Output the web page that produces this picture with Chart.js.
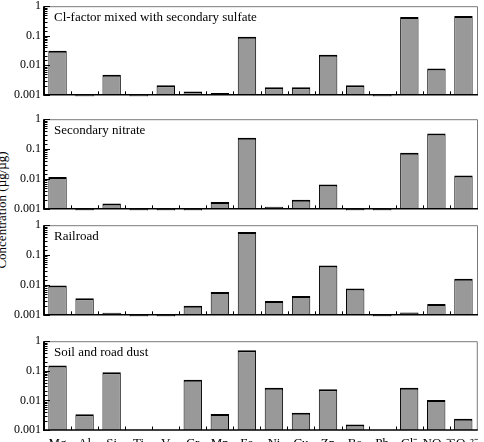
<!DOCTYPE html>
<html><head><meta charset="utf-8">
<script src="https://cdn.jsdelivr.net/npm/chart.js@4"></script>
<style>
html,body{margin:0;padding:0;width:484px;height:442px;overflow:hidden;background:#fff;}
canvas{position:absolute;left:0;}
#ytitle{position:absolute;left:1px;top:210px;transform:translate(-50%,-50%) rotate(-90deg);white-space:nowrap;font:13px 'Liberation Serif';line-height:15px;color:#000;}
</style></head><body>
<div id="ytitle">Concentration (µg/µg)</div>
<canvas id="c0"></canvas><canvas id="c1"></canvas><canvas id="c2"></canvas><canvas id="c3"></canvas>
<script>
const categories = ['Mg','Al','Si','Ti','V','Cr','Mn','Fe','Ni','Cu','Zn','Ba','Pb','Cl⁻','NO₃⁻','SO₄²⁻'];
const clFactorSulfate = [0.031, 0.00088, 0.0048, 0.00088, 0.0021, 0.0013, 0.00114, 0.093, 0.0018, 0.0018, 0.0225, 0.0021, 0.00088, 0.43, 0.0078, 0.47];
const secondaryNitrate = [0.0115, 0.00088, 0.0015, 0.00088, 0.00088, 0.00088, 0.0017, 0.24, 0.00116, 0.002, 0.0065, 0.00088, 0.00088, 0.076, 0.33, 0.013];
const railroad = [0.0096, 0.0036, 0.00116, 0.00088, 0.00088, 0.002, 0.0058, 0.59, 0.0029, 0.0043, 0.045, 0.0076, 0.00088, 0.00119, 0.0023, 0.016];
const soilRoadDust = [0.15, 0.0034, 0.089, null, null, 0.05, 0.0035, 0.49, 0.027, 0.0038, 0.024, 0.00154, null, 0.027, 0.0103, 0.0024];
const panelTitles = ['Cl-factor mixed with secondary sulfate', 'Secondary nitrate', 'Railroad', 'Soil and road dust'];
const yTickLabels = ['0.001', '0.01', '0.1', '1'];
const yMin = 0.001, yMax = 1;

const panelTop = [4, 117, 223, 339];
const panelBottom = [97, 211, 317, 430];
const serif = "'Liberation Serif', 'Times New Roman', serif";

const deco = {
  id: 'deco',
  afterDraw(chart, args, opts) {
    const {ctx, chartArea: a, scales: {x, y}} = chart;
    ctx.save();
    ctx.strokeStyle = '#7a7a7a'; ctx.lineWidth = 1;
    ctx.beginPath();
    ctx.moveTo(a.left, a.top + 0.5); ctx.lineTo(a.right + 0.5, a.top + 0.5); ctx.lineTo(a.right + 0.5, a.bottom);
    ctx.stroke();
    ctx.strokeStyle = '#000';
    ctx.lineWidth = 2;
    ctx.beginPath(); ctx.moveTo(a.left, a.top); ctx.lineTo(a.left, a.bottom + 1); ctx.stroke();
    ctx.lineWidth = 1.5;
    ctx.beginPath(); ctx.moveTo(a.left, a.bottom); ctx.lineTo(a.right + 1, a.bottom); ctx.stroke();
    ctx.lineWidth = 1;
    y.ticks.forEach(t => {
      const p = Math.round(y.getPixelForValue(t.value)) + 0.5;
      const lg = Math.log10(t.value);
      const major = Math.abs(lg - Math.round(lg)) < 1e-6;
      const len = major ? 6 : 3.5;
      ctx.beginPath(); ctx.moveTo(a.left, p); ctx.lineTo(a.left + len, p); ctx.stroke();
    });
    const n = chart.data.labels.length;
    for (let i = 0; i < n - 1; i++) {
      const xb = Math.round((x.getPixelForValue(i) + x.getPixelForValue(i + 1)) / 2) + 0.5;
      ctx.beginPath(); ctx.moveTo(xb, a.bottom); ctx.lineTo(xb, a.bottom - 3.5); ctx.stroke();
    }
    ctx.fillStyle = '#000';
    ctx.font = "13px " + serif;
    ctx.textBaseline = 'middle';
    ctx.fillText(opts.title, a.left + 10, a.top + 11);
    ctx.restore();
  }
};

function makeChart(idx, values, showX) {
  const top = panelTop[idx], bottom = panelBottom[idx];
  const padTop = 8;
  const xAxisH = showX ? 22 : 0;
  const padBottom = showX ? 0 : 8;
  const h = (bottom - top) + padTop + padBottom + xAxisH;
  const cv = document.getElementById('c' + idx);
  cv.style.top = (top - padTop) + 'px';
  cv.width = 484; cv.height = h;
  cv.style.width = '484px'; cv.style.height = h + 'px';
  new Chart(cv, {
    type: 'bar',
    data: {labels: categories, datasets: [{
      data: values,
      backgroundColor: '#999999',
      borderColor: '#000',
      borderWidth: {top: 2, left: 1, right: 1, bottom: 0},
      borderSkipped: false,
      barPercentage: 0.68,
      categoryPercentage: 1,
      clip: false
    }]},
    options: {
      responsive: false, animation: false, devicePixelRatio: 1,
      layout: {padding: {top: padTop, bottom: padBottom, left: 0, right: 7}},
      plugins: {legend: {display: false}, tooltip: {enabled: false}, deco: {title: panelTitles[idx]}},
      scales: {
        x: {
          grid: {display: false, drawTicks: false}, border: {display: false},
          ticks: {display: showX, color: '#000', font: {family: serif, size: 13}, padding: 6, maxRotation: 0, autoSkip: false},
          afterFit: s => { s.height = xAxisH; }
        },
        y: {
          type: 'logarithmic', min: yMin, max: yMax,
          grid: {display: false, drawTicks: false}, border: {display: false},
          ticks: {
            autoSkip: false, padding: 3, color: '#000', font: {family: serif, size: 12},
            callback: v => {
              const lg = Math.log10(v);
              if (Math.abs(lg - Math.round(lg)) > 1e-6) return '';
              return yTickLabels[Math.round(lg) + 3];
            }
          },
          afterFit: s => { s.width = 44; }
        }
      }
    },
    plugins: [deco]
  });
}

makeChart(0, clFactorSulfate, false);
makeChart(1, secondaryNitrate, false);
makeChart(2, railroad, false);
makeChart(3, soilRoadDust, true);
</script>
</body></html>
